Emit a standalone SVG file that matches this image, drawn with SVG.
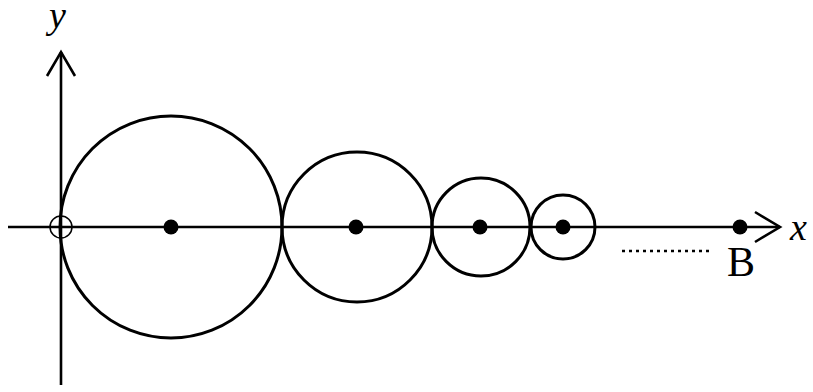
<svg xmlns="http://www.w3.org/2000/svg" width="813" height="392" viewBox="0 0 813 392">
<style>
.ax{stroke:#000;stroke-width:2.6;fill:none}
.c{stroke:#000;stroke-width:3;fill:none}
.d{fill:#000}
.t{font-family:"Liberation Serif",serif;font-size:38px;fill:#000}
.i{font-style:italic}
</style>
<rect width="813" height="392" fill="#fff"/>
<g id="connectors">
<line class="ax" x1="8" y1="227" x2="780" y2="227"/>
<polyline class="ax" points="755,212 780,227 755,242"/>
<line class="ax" x1="61" y1="385" x2="61" y2="52"/>
<polyline class="ax" points="47,76 61,52 75,76"/>
<line x1="622" y1="251" x2="710" y2="251" stroke="#000" stroke-width="2.5" stroke-dasharray="3,4"/>
</g>
<g id="origin"><circle cx="61" cy="227" r="11" stroke="#000" stroke-width="1.5" fill="none"/></g>
<g id="circle1"><circle class="c" cx="171" cy="227" r="111"/><circle class="d" cx="171" cy="227" r="7.5"/></g>
<g id="circle2"><circle class="c" cx="357" cy="227" r="75"/><circle class="d" cx="356" cy="227" r="7.5"/></g>
<g id="circle3"><circle class="c" cx="481" cy="227" r="49"/><circle class="d" cx="480" cy="227" r="7.5"/></g>
<g id="circle4"><circle class="c" cx="563" cy="227" r="32"/><circle class="d" cx="563" cy="227" r="7.5"/></g>
<g id="B"><circle class="d" cx="740" cy="227" r="7.5"/><text class="t" x="727" y="276" style="font-size:42px">B</text></g>
<text class="t i" x="790" y="240">x</text>
<text class="t i" x="49" y="28">y</text>
</svg>
